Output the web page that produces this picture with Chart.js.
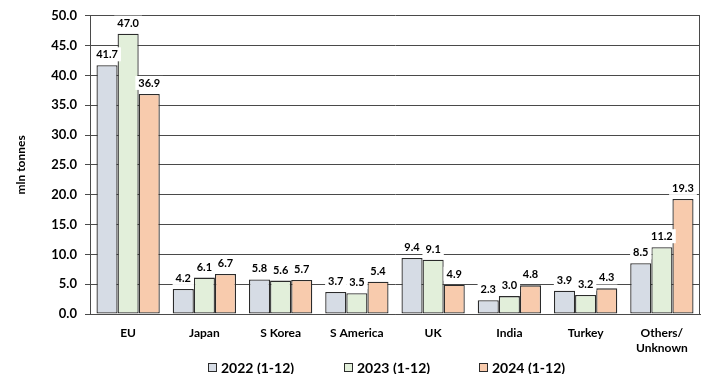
<!DOCTYPE html>
<html>
<head>
<meta charset="utf-8">
<script src="https://cdn.jsdelivr.net/npm/chart.js@4/dist/chart.umd.min.js"></script>
<style>
  html, body { margin: 0; padding: 0; background: #ffffff; }
  #wrap { width: 704px; height: 374px; }
</style>
</head>
<body>
<div id="wrap"><canvas id="c" width="704" height="374"></canvas></div>
<script>
// Destinations
const categories = ['EU', 'Japan', 'S Korea', 'S America', 'UK', 'India', 'Turkey', ['Others/', 'Unknown']];

// Volumes, mln tonnes, full year
const y2022 = [41.7, 4.2, 5.8, 3.7, 9.4, 2.3, 3.9, 8.5];
const y2023 = [47.0, 6.1, 5.6, 3.5, 9.1, 3.0, 3.2, 11.2];
const y2024 = [36.9, 6.7, 5.7, 5.4, 4.9, 4.8, 4.3, 19.3];

const seriesNames = ['2022 (1-12)', '2023 (1-12)', '2024 (1-12)'];
const yTicks = { min: 0, max: 50, step: 5 };

const FONT = 'Lato, "Liberation Sans", Arial, sans-serif';
const LINE = '#4a4a4a';
const EDGE = '#2b2b2b';
const TEXT = '#000000';

// Value labels on white boxes above each bar
const valueLabels = {
  id: 'valueLabels',
  afterDatasetsDraw(chart) {
    const ctx = chart.ctx;
    ctx.save();
    ctx.font = 'bold 11px ' + FONT;
    ctx.textAlign = 'center';
    ctx.textBaseline = 'middle';
    chart.data.datasets.forEach((ds, di) => {
      const meta = chart.getDatasetMeta(di);
      meta.data.forEach((bar, i) => {
        const txt = ds.data[i].toFixed(1);
        const w = ctx.measureText(txt).width + 6;
        const h = 14;
        const cx = bar.x;
        const cy = bar.y - 11;
        ctx.fillStyle = '#ffffff';
        ctx.fillRect(cx - w / 2, cy - h / 2, w, h);
        ctx.fillStyle = TEXT;
        ctx.fillText(txt, cx, cy + 0.5);
      });
    });
    ctx.restore();
  }
};

// Right-hand frame line of the plot area
const frame = {
  id: 'frame',
  beforeDatasetsDraw(chart) {
    const { ctx, chartArea: a } = chart;
    ctx.save();
    ctx.strokeStyle = LINE;
    ctx.lineWidth = 1;
    ctx.beginPath();
    ctx.moveTo(Math.round(a.right) - 0.5, a.top);
    ctx.lineTo(Math.round(a.right) - 0.5, a.bottom);
    ctx.stroke();
    ctx.restore();
  }
};

// Series key along the bottom edge
const seriesKey = {
  id: 'seriesKey',
  afterDraw(chart) {
    const ctx = chart.ctx;
    const items = chart.data.datasets;
    const step = 135.5;
    const span = step * (items.length - 1) + 86;
    const start = 386.5 - span / 2;
    const cy = 367;
    ctx.save();
    ctx.font = 'bold 14px ' + FONT;
    ctx.textAlign = 'left';
    ctx.textBaseline = 'middle';
    items.forEach((ds, i) => {
      const x = Math.round(start + i * step);
      ctx.fillStyle = ds.backgroundColor;
      ctx.fillRect(x, cy - 4, 9, 9);
      ctx.strokeStyle = EDGE;
      ctx.lineWidth = 1;
      ctx.strokeRect(x + 0.5, cy - 3.5, 8, 8);
      ctx.fillStyle = TEXT;
      ctx.fillText(ds.label, x + 13, cy + 1);
    });
    ctx.restore();
  }
};

const colors = ['#D6DCE5', '#E2EFDA', '#F8CBAD'];
const values = [y2022, y2023, y2024];

new Chart(document.getElementById('c'), {
  type: 'bar',
  data: {
    labels: categories,
    datasets: values.map((v, i) => ({
      label: seriesNames[i],
      data: v,
      backgroundColor: colors[i],
      borderColor: EDGE,
      borderWidth: 1.3,
      borderSkipped: false,
      barPercentage: 1.0,
      categoryPercentage: 0.83
    }))
  },
  options: {
    responsive: false,
    animation: false,
    devicePixelRatio: 1,
    layout: { padding: { top: 10, right: 4, left: 14, bottom: 18 } },
    plugins: {
      title: { display: false },
      tooltip: { enabled: false },
      legend: { display: false }
    },
    scales: {
      x: {
        grid: { display: false, drawTicks: false },
        border: { display: true, color: LINE, width: 1 },
        ticks: {
          color: TEXT,
          padding: 12,
          autoSkip: false,
          maxRotation: 0,
          font: { family: FONT, size: 12, weight: 'bold', lineHeight: 1.25 }
        },
        afterFit(s) { s.height = 42; }
      },
      y: {
        min: yTicks.min,
        max: yTicks.max,
        grid: { color: LINE, lineWidth: 1, drawTicks: true, tickLength: 5 },
        border: { display: true, color: LINE, width: 1 },
        ticks: {
          stepSize: yTicks.step,
          color: TEXT,
          padding: 8,
          font: { family: FONT, size: 13, weight: 'bold' },
          callback: v => Number(v).toFixed(1)
        },
        title: {
          display: true,
          text: 'mln tonnes',
          color: TEXT,
          padding: { top: 0, bottom: 0 },
          font: { family: FONT, size: 12, weight: 'bold' }
        },
        afterFit(s) { s.width = 76; }
      }
    }
  },
  plugins: [valueLabels, frame, seriesKey]
});
</script>
</body>
</html>
